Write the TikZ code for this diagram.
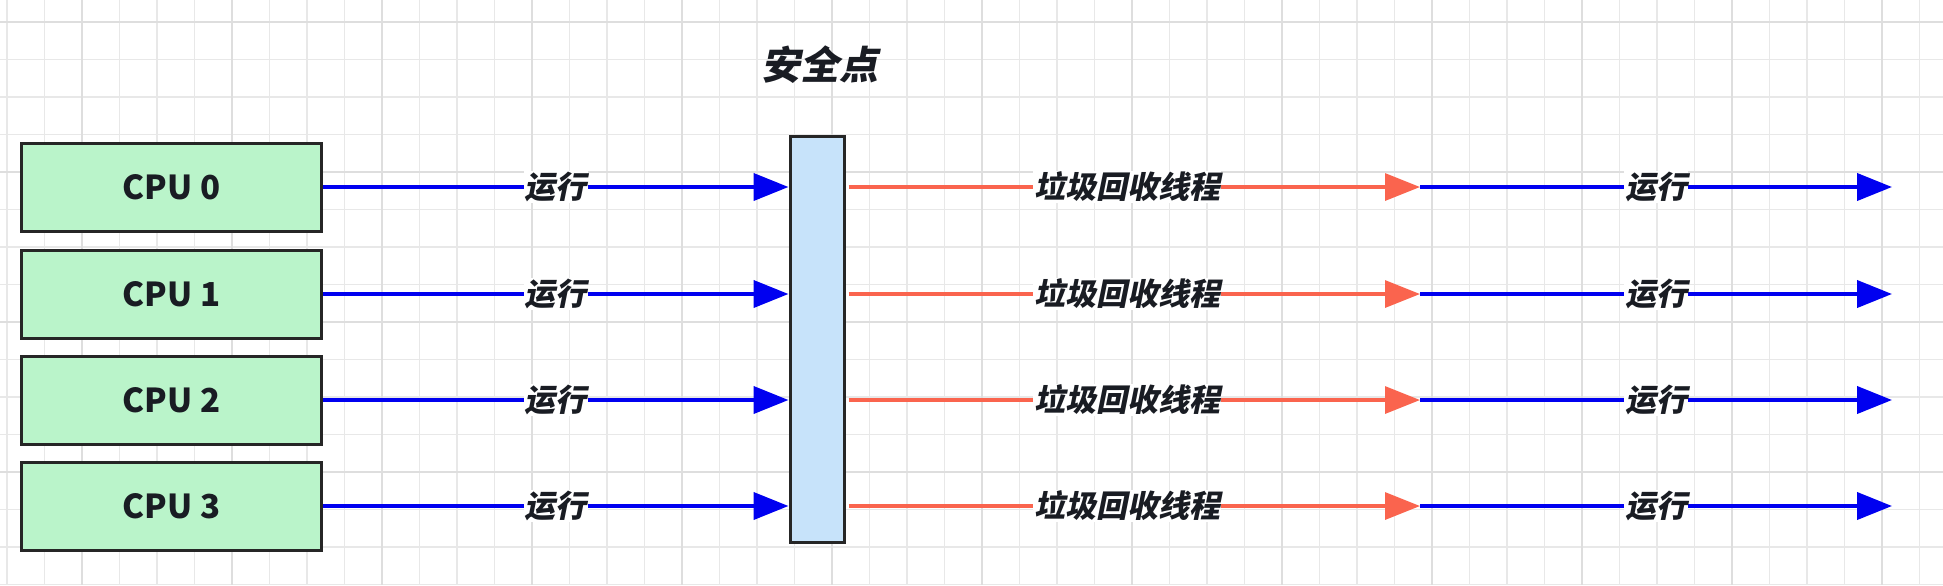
\documentclass[tikz,border=0pt]{standalone}
\usepackage{fontspec}
\newfontfamily\cjk{Noto Sans CJK SC}
\newfontfamily\cjkslant{Noto Sans CJK SC}[FakeSlant=0.2]
\usepackage{tikz}
\usetikzlibrary{positioning,arrows.meta}
\usepackage{xcolor}
\definecolor{cpugreen}{RGB}{186,244,202}
\definecolor{barblue}{RGB}{199,227,250}
\definecolor{gcred}{RGB}{250,100,78}
\definecolor{runblue}{RGB}{0,0,240}
\definecolor{textdark}{RGB}{25,28,35}

\begin{document}
\begin{tikzpicture}[x=0.5pt,y=-0.5pt,>={Triangle[length=17.5pt,width=13.5pt]},
  gridline/.style={draw=black!9,line width=0.6pt},
  gridmajor/.style={draw=black!13,line width=0.8pt},
  cpubox/.style={draw=black!85,line width=1.5pt,fill=cpugreen,minimum width=150pt,minimum height=44pt,text=textdark,font=\cjk\bfseries\fontsize{16.5}{18}\selectfont},
  safebox/.style={draw=black!85,line width=1.5pt,fill=barblue,minimum width=27pt,minimum height=203pt},
  lbl/.style={fill=white,inner sep=0.5pt,text=textdark,font=\cjkslant\bfseries\fontsize{15.5}{17}\selectfont},
  run/.style={->,draw=runblue,line width=2pt},
  gc/.style={->,draw=gcred,line width=1.6pt}]
\useasboundingbox[fill=white] (0,0) rectangle (1943,585);
% background grid
\foreach \k in {0,...,51} \draw[gridline] ({7+37.5*\k},0) -- ({7+37.5*\k},585);
\foreach \k in {0,...,15} \draw[gridline] (0,{22+37.5*\k}) -- (1943,{22+37.5*\k});
\foreach \k in {0,...,12} \draw[gridmajor] ({82+150*\k},0) -- ({82+150*\k},585);
\foreach \k in {0,...,3} \draw[gridmajor] (0,{22+150*\k}) -- (1943,{22+150*\k});

\foreach \i/\y in {0/187,1/294,2/400,3/506}
  \node[cpubox] (cpu\i) at (171.5,\y) {CPU \i};
\node[safebox] (safe) at (817,339) {};
\node[lbl,fill=none,font=\cjkslant\bfseries\fontsize{19.5}{21}\selectfont] (title) at (820,65) {安全点};

\foreach \i/\y in {0/187,1/294,2/400,3/506}{
  \coordinate (gc\i) at (1420,\y);
  \coordinate (end\i) at (1892,\y);
  \draw[run] (cpu\i.east) -- (cpu\i.east -| safe.west) node[midway,lbl]{运行};
  \draw[gc,shorten <=1.5pt] (cpu\i.east -| safe.east) -- (gc\i) node[pos=0.49,lbl]{垃圾回收线程};
  \draw[run] (gc\i) -- (end\i) node[midway,lbl]{运行};
}
\end{tikzpicture}
\end{document}
